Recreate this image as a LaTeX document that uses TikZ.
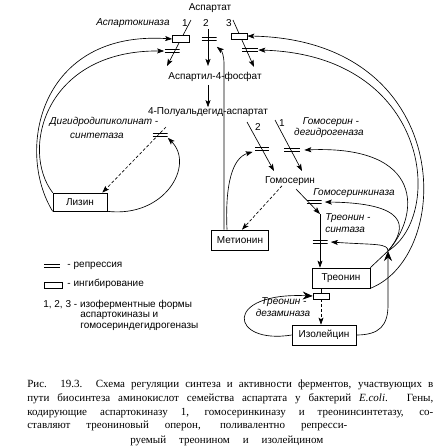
\documentclass[tikz,border=0pt]{standalone}
\usepackage{fontspec}
\setmainfont{Liberation Serif}
\setsansfont{Liberation Sans}
\usepackage{tikz}
\usetikzlibrary{arrows}
\usetikzlibrary{arrows.meta}
\usetikzlibrary{positioning}
\tikzset{
	main node/.style={rectangle,draw,font=\sffamily,minimum height=20pt,inner sep=1pt},
	lbl/.style={font=\sffamily,inner sep=0pt},
	enz/.style={font=\sffamily\itshape,inner sep=0pt},
	captxt/.style={font=\rmfamily\fontsize{11}{12}\selectfont,inner sep=0pt,anchor=west},
	inhib/.style={rectangle,draw,fill=white,minimum width=17pt,minimum height=7pt,inner sep=0pt},
	repr/.style={rectangle,minimum width=15pt,minimum height=5pt,inner sep=0pt,
		path picture={
			\draw[-,line width=1.4pt] ([yshift=1.3pt]path picture bounding box.west) -- ([yshift=1.3pt]path picture bounding box.east);
			\draw[-,line width=1.4pt] ([yshift=-1.3pt]path picture bounding box.west) -- ([yshift=-1.3pt]path picture bounding box.east);}},
	dash line/.style={dash pattern=on 3pt off 2pt},
	big tip/.style={-{Stealth[length=10pt,width=8pt]}}
}

\begin{document}
\begin{tikzpicture}[x=1pt,y=-1pt,->,>={Stealth[length=7pt,width=5pt,inset=1.5pt]},line width=0.65pt]
	\useasboundingbox (0,0) rectangle (446,448);

	\node[lbl] (asp) at (210,8) {Аспартат};
	\node[enz] (ak) at (133,23) {Аспартокиназа};
	\node[lbl] (n1) at (185,23) {1};
	\node[lbl] (n2) at (206,23) {2};
	\node[lbl] (n3) at (229,23) {3};
	\node[lbl] (a4p) at (215,77) {Аспартил-4-фосфат};
	\node[lbl] (pal) at (208,112) {4-Полуальдегид-аспартат};
	\node[enz] (dhdpa) at (104,122) {Дигидродипиколинат -};
	\node[enz] (dhdpb) at (97,136) {синтетаза};
	\node[enz] (hsdha) at (331,122) {Гомосерин -};
	\node[enz] (hsdhb) at (329,133) {дегидрогеназа};
	\node[lbl] (m2) at (258,127) {2};
	\node[lbl] (m1) at (282,123) {1};
	\node[lbl] (hs) at (290,181) {Гомосерин};
	\node[enz] (hk) at (354,193) {Гомосеринкиназа};
	\node[enz,anchor=west] (tsa) at (325,218) {Треонин -};
	\node[enz,anchor=west] (tsb) at (325,230) {синтаза};
	\node[enz] (tda) at (284,302) {Треонин -};
	\node[enz] (tdb) at (283,313) {дезаминаза};

	\node[main node,minimum width=54pt,minimum height=18pt] (lys) at (80,202) {Лизин};
	\node[main node,minimum width=57pt] (met) at (240,240) {Метионин};
	\node[main node,minimum width=58pt] (thr) at (341,278) {Треонин};
	\node[main node,minimum width=64pt] (ile) at (324,335) {Изолейцин};

	\coordinate (s1) at (191,20); \coordinate (e1) at (167,66);
	\coordinate (s2) at (208,29); \coordinate (e2) at (208,66);
	\coordinate (s3) at (233,20); \coordinate (e3) at (254,67);
	\coordinate (d0) at (166,127);
	\coordinate (h2s) at (247,122); \coordinate (h2e) at (274,171);
	\coordinate (h1s) at (275,120); \coordinate (h1e) at (302,171);
	\coordinate (hs2) at (296,189); \coordinate (k) at (320,214);
	\coordinate (v) at (224,64);
	\coordinate (J) at (388,251);

	\draw (s1) -- (e1);
	\draw (s2) -- (e2);
	\draw (s3) -- (e3);
	\draw[shorten <=3pt] (pal.north |- a4p.south) -- (pal.north);
	\draw[dash line] (d0) -- ([xshift=-5pt]lys.north east);
	\draw (h2s) -- (h2e);
	\draw (h1s) -- (h1e);
	\draw[dash line] ([xshift=-8pt]hs.south) -- ([xshift=2pt]met.north);
	\draw (hs2) -- (k);
	\draw (k) -- (k |- thr.north);

	\node[inhib] (I1) at (181,39) {};
	\node[repr] (R1) at (172,51) {};
	\node[repr] (R2) at (209,39) {};
	\node[inhib,minimum width=16pt,minimum height=6pt] (I3) at (239,36) {};
	\node[repr,minimum width=16pt] (R3) at (250,50) {};
	\node[repr] (Rd) at (160,135) {};
	\node[repr,minimum width=14pt] (Rm) at (262,149) {};
	\node[repr,minimum width=16pt] (Rh) at (292,150) {};
	\node[repr] (Rk) at (314,202) {};
	\node[repr] (Rs) at (320,242) {};
	\node[inhib,minimum width=16pt,minimum height=6pt] (I4) at (321,296) {};

	\draw[-] (thr.south -| I4) -- (I4.north);
	\draw[dash line] (I4.south) -- (I4.south |- ile.north);

	\draw (lys.south west) .. controls (15,150) and (40,30) .. (I1.west);
	\draw (lys.north west) .. controls (20,150) and (45,50) .. (R1.west);
	\draw (lys.south east) .. controls (165,218) and (195,165) .. (Rd.south east);
	\draw (v |- met.north) -- (v) .. controls (224,56) and (222,51) .. ([yshift=-5pt]R2.south east);
	\draw ([xshift=3pt]v |- met.north) .. controls (225,185) and (232,158) .. ([xshift=-2pt]Rm.south west);

	\draw[-] (thr.north east) -- (J);
	\draw[big tip] (ile.east) .. controls (380,335) and (388,325) .. (388,305) -- (J);
	\draw[big tip] (ile.west) .. controls (230,345) and (222,292) .. (I4.west);
	\draw (thr.south east) .. controls (455,255) and (455,40) .. (I3.east);
	\draw (J) .. controls (445,215) and (430,55) .. (R3.east);
	\draw (J) .. controls (420,215) and (425,145) .. ([xshift=4pt]Rh.east);
	\draw (J) .. controls (410,225) and (405,203) .. ([xshift=3pt]Rk.east);
	\draw (J) .. controls (388,243) and (375,245) .. ([xshift=3pt]Rs.east);

	\node[repr,minimum width=16pt] (lr) at (52,266) {};
	\node[lbl,anchor=west] (lrt) at (67,266) {-\hspace{3pt}репрессия};
	\node[inhib,minimum width=18pt,minimum height=6pt] (li) at (53,285) {};
	\node[lbl,anchor=west] (lit) at (67,284) {-\hspace{3pt}ингибирование};
	\node[lbl,anchor=west] (liso) at (43,305) {1, 2, 3 - изоферментные формы};
	\node[lbl,anchor=west] (liso2) at (80,316) {аспартокиназы и};
	\node[lbl,anchor=west] (liso3) at (80,327) {гомосериндегидрогеназы};

	\node[captxt] (cap1) at (27,385) {\makebox[406pt][s]{Рис. 19.3. Схема регуляции синтеза и активности ферментов, участвующих в}};
	\node[captxt] (cap2) at (27,399) {\makebox[406pt][s]{пути биосинтеза аминокислот семейства аспартата у бактерий \textit{E.coli}. Гены,}};
	\node[captxt] (cap3) at (27,413) {\makebox[406pt][s]{кодирующие аспартокиназу 1, гомосеринкиназу и треонинсинтетазу, со-}};
	\node[captxt] (cap4) at (27,426) {\makebox[320pt][s]{ставляют треониновый оперон, поливалентно репресси-}};
	\node[captxt] (cap5) at (130,441) {\makebox[193pt][s]{руемый треонином и изолейцином}};
\end{tikzpicture}
\end{document}
